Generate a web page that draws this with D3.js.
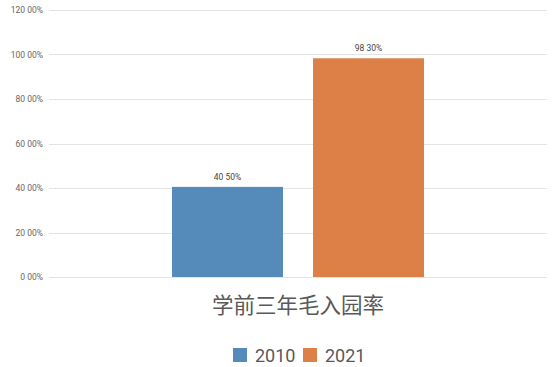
<!DOCTYPE html>
<html>
<head>
<meta charset="utf-8">
<script src="https://cdn.jsdelivr.net/npm/d3@7"></script>
<style>
  body { margin: 0; background: #fff; }
  text { font-family: Roboto, "Noto Sans CJK SC", sans-serif; }
</style>
</head>
<body>
<svg id="chart"></svg>
<script>
const category = '学前三年毛入园率';
const series = ['2010', '2021'];
const values = [40.5, 98.3];
const colors = ['#548bbb', '#dd8047'];
const ticks = [0, 20, 40, 60, 80, 100, 120];

const W = 554, H = 367;
const margin = {top: 10, right: 7, bottom: 90, left: 49};
const width = W - margin.left - margin.right;
const height = H - margin.top - margin.bottom;

const fmt = v => d3.format('.2f')(v).replace('.', ' ') + '%';

const svg = d3.select('#chart')
  .attr('width', W)
  .attr('height', H)
  .append('g')
  .attr('transform', `translate(${margin.left}, ${margin.top})`);

const y = d3.scaleLinear().domain([0, 120]).range([height, 0]);

const x0 = d3.scaleBand()
  .domain([category])
  .range([0, width]);

const cx = x0(category) + x0.bandwidth() / 2;
const x1 = d3.scaleBand()
  .domain(series)
  .range([cx - 126, cx + 126])
  .paddingInner(0.213);

// grid
svg.append('g')
  .selectAll('line')
  .data(ticks)
  .enter()
  .append('line')
  .attr('x1', 0).attr('x2', width)
  .attr('y1', d => Math.round(y(d)) + 0.5)
  .attr('y2', d => Math.round(y(d)) + 0.5)
  .attr('stroke', '#e3e3e3')
  .attr('stroke-width', 1);

svg.append('g')
  .selectAll('text')
  .data(ticks)
  .enter()
  .append('text')
  .attr('x', -6)
  .attr('y', d => y(d) + 3)
  .attr('text-anchor', 'end')
  .style('font-size', '8.5px')
  .style('fill', '#666')
  .text(d => fmt(d));

// bars
svg.selectAll('.bar')
  .data(values)
  .enter()
  .append('rect')
  .attr('x', (d, i) => x1(series[i]))
  .attr('y', d => y(d))
  .attr('width', x1.bandwidth())
  .attr('height', d => height - y(d))
  .attr('fill', (d, i) => colors[i]);

svg.selectAll('.val')
  .data(values)
  .enter()
  .append('text')
  .attr('x', (d, i) => x1(series[i]) + x1.bandwidth() / 2)
  .attr('y', d => y(d) - 7)
  .attr('text-anchor', 'middle')
  .style('font-size', '8.5px')
  .style('fill', '#444')
  .text(d => fmt(d));

// category label
svg.append('text')
  .attr('x', cx)
  .attr('y', height + 36)
  .attr('text-anchor', 'middle')
  .style('font-size', '21.5px')
  .style('fill', '#595959')
  .text(category);

// legend
const legend = svg.append('g')
  .attr('transform', `translate(${233 - margin.left}, ${348 - margin.top})`);

const item = legend.selectAll('g')
  .data(series)
  .enter()
  .append('g')
  .attr('transform', (d, i) => `translate(${i * 70}, 0)`);

item.append('rect')
  .attr('width', 14).attr('height', 14)
  .attr('fill', (d, i) => colors[i]);

item.append('text')
  .attr('x', 22).attr('y', 14)
  .style('font-size', '18px')
  .style('fill', '#595959')
  .text(d => d);
</script>
</body>
</html>
